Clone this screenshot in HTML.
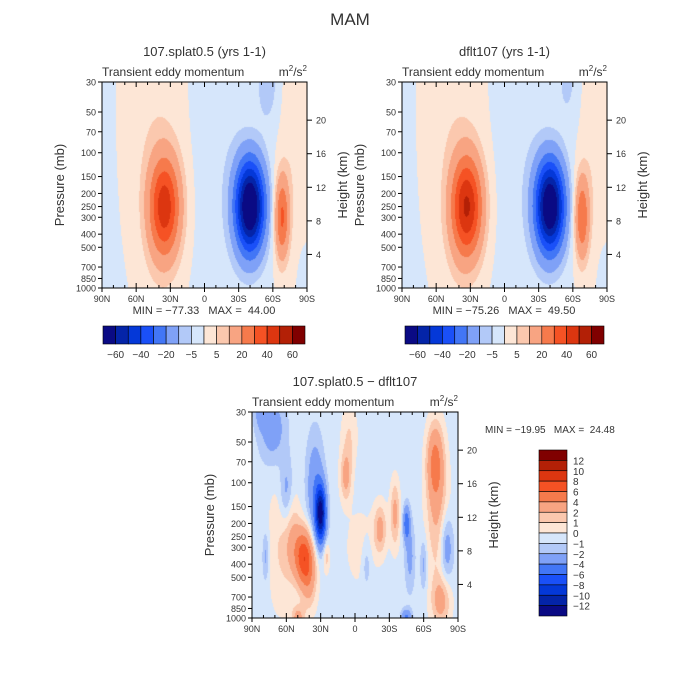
<!DOCTYPE html>
<html><head><meta charset="utf-8"><style>
body{margin:0;background:#fff;}
#root{position:relative;width:700px;height:700px;background:#fff;font-family:"Liberation Sans",sans-serif;color:#333;overflow:hidden;}
.t{position:absolute;white-space:nowrap;}
canvas{position:absolute;}
svg{position:absolute;left:0;top:0;}
svg text{white-space:pre;}
</style></head><body>
<div id="root">
<div class="t" style="left:0;width:700px;text-align:center;top:10px;font-size:17px;">MAM</div>
<canvas id="c1" width="205" height="206" style="left:102px;top:82px"></canvas>
<canvas id="c2" width="205" height="206" style="left:402px;top:82px"></canvas>
<canvas id="c3" width="206" height="206" style="left:252px;top:412px"></canvas>
<svg id="ov" width="700" height="700"></svg>
</div>
<script>
const palette=["#0a0a84","#0424a8","#0438d8","#1a50f8","#4276f6","#7fa1f7","#b2c9f8","#d6e6fb","#fde6d6","#fbc8ae","#f8a482","#f67a4c","#f55224","#dc3610","#b32006","#800000"];
const levelsTop=[-60,-50,-40,-30,-20,-10,-5,0,5,10,20,30,40,50,60];
const levelsDiff=[-12,-10,-8,-6,-4,-2,-1,0,1,2,4,6,8,10,12];
const labelsTop=["-60","-40","-20","-5","5","20","40","60"];
const labelsDiff=["12","10","8","6","4","2","1","0","-1","-2","-4","-6","-8","-10","-12"];
const latTicks=["90N","60N","30N","0","30S","60S","90S"];
const presTicks=[30,50,70,100,150,200,250,300,400,500,700,850,1000];
const kmTicks=[4,8,12,16,20];
// blobs: [lat(N+), pressure mb, amplitude, sigmaLat, sigmaLnP]
const blobs1=[[35,250,44,9.5,0.6],[-40,250,-77,9,0.55],[-68,300,32,4.5,0.5],[45,60,4,18,1.2],[40,500,3,14,0.9],[-15,100,-3,15,2],[-80,80,4.5,8,1.2],[-55,30,-9,6,0.45],[-88,900,-4,3,0.3],[88,300,-3,5,2]];
const blobs2=[[33,250,49,9.5,0.6],[-40,250,-75,9,0.55],[-68,300,30,4.5,0.5],[45,60,4,18,1.2],[40,500,3,14,0.9],[-15,100,-3,15,2],[-80,80,4.5,8,1.2],[-55,30,-6,6,0.45],[-88,900,-4,3,0.3],[88,300,-3,5,2]];
const blobsDiff=[[45,350,7,5.5,0.33],[40,500,3,5,0.4],[55,250,2,5,0.5],[30,170,-12,3.2,0.33],[35,110,-3,5,0.6],[60,120,-2.5,4,0.4],[72,40,-2.5,8,0.4],[82,30,-2,4,0.2],[65,300,1.5,8,0.8],[8,90,3,3.5,0.3],[5,45,1.5,5,0.4],[-70,70,4.5,5,0.45],[-72,170,2.5,7,0.8],[-22,220,3,4,0.3],[-35,170,3,3,0.4],[-45,200,-5,2,0.2],[-48,350,-2,3,0.4],[-80,300,-3,4,0.4],[-75,750,3,6,0.3],[-45,1000,-4,3,0.1],[25,350,2,2,0.2],[-5,300,1,10,0.5],[78,350,-2,2,0.3],[50,1000,3,4,0.15],[-10,400,-1.5,3,0.3],[-60,400,-2,2,0.3]];
const baseDiff=-0.5;

const L30=Math.log(30),L1000=Math.log(1000);
function xOf(lat,x0,w){return x0+(90-lat)/180*w;}
function yOf(p,y0,h){return y0+(Math.log(p)-L30)/(L1000-L30)*h;}
function cls(v,lev){let i=0;while(i<lev.length&&v>=lev[i])i++;return i;}
function hex(c){return [parseInt(c.slice(1,3),16),parseInt(c.slice(3,5),16),parseInt(c.slice(5,7),16)];}
const rgb=palette.map(hex);
function draw(id,blobs,base,lev){
  const c=document.getElementById(id),ctx=c.getContext('2d'),W=c.width,H=c.height;
  const img=ctx.createImageData(W,H);
  for(let j=0;j<H;j++){const lp=L30+(j+0.5)/H*(L1000-L30);
    for(let i=0;i<W;i++){const lat=90-(i+0.5)/W*180;let v=base;
      for(const b of blobs){const dx=(lat-b[0])/b[3],dy=(lp-Math.log(b[1]))/b[4];v+=b[2]*Math.exp(-0.5*(dx*dx+dy*dy));}
      const col=rgb[cls(v,lev)],k=(j*W+i)*4;img.data[k]=col[0];img.data[k+1]=col[1];img.data[k+2]=col[2];img.data[k+3]=255;}}
  ctx.putImageData(img,0,0);
}
draw('c1',blobs1,-0.5,levelsTop);draw('c2',blobs2,-0.5,levelsTop);draw('c3',blobsDiff,baseDiff,levelsDiff);

const NS='http://www.w3.org/2000/svg',ov=document.getElementById('ov');
function el(tag,a,txt){const e=document.createElementNS(NS,tag);for(const k in a)e.setAttribute(k,a[k]);if(txt!==undefined)e.textContent=txt;ov.appendChild(e);return e;}
function txt(x,y,s,size,anchor,name,rot){const e=el('text',{x:x,y:y,'font-size':size,'text-anchor':anchor||'middle',fill:'#333','font-family':'Liberation Sans, sans-serif'},s);
  if(rot)e.setAttribute('transform','rotate(-90 '+x+' '+y+')');
  
  return e;}
function panel(x0,y0,w,h,title,pfx){
  const r=el('rect',{x:x0,y:y0,width:w,height:h,fill:'none',stroke:'#000','stroke-width':1});
  
  
  txt(x0+w/2,y0-26,title,13,'middle',pfx+'-title');
  txt(x0,y0-6,'Transient eddy momentum',12,'start',pfx+'-subtitle');
  const u=txt(x0+w,y0-6,'',12,'end',pfx+'-units');
  u.innerHTML='m<tspan dy="-5" font-size="8">2</tspan><tspan dy="5">/s</tspan><tspan dy="-5" font-size="8">2</tspan>';
  for(let lat=90;lat>=-90;lat-=10){const x=xOf(lat,x0,w),len=(lat%30===0)?5:3;
    el('line',{x1:x,y1:y0+h,x2:x,y2:y0+h-len,stroke:'#000'});el('line',{x1:x,y1:y0,x2:x,y2:y0+len,stroke:'#000'});}
  latTicks.forEach((s,i)=>{const x=xOf(90-30*i,x0,w);el('line',{x1:x,y1:y0+h,x2:x,y2:y0+h+4,stroke:'#000'});
    txt(x,y0+h+14,s,9,'middle',pfx+'-x-tick-label');});
  presTicks.forEach(p=>{const y=yOf(p,y0,h);el('line',{x1:x0-4,y1:y,x2:x0,y2:y,stroke:'#000'});
    txt(x0-6,y+3.5,String(p),9,'end',pfx+'-y-tick-label');});
  kmTicks.forEach(z=>{const p=1000*Math.exp(-z/7),y=yOf(p,y0,h);el('line',{x1:x0+w,y1:y,x2:x0+w+5,y2:y,stroke:'#000'});
    txt(x0+w+9,y+3.5,String(z),9,'start',pfx+'-km-tick-label');});
  txt(x0-38,y0+h/2,'Pressure (mb)',13,'middle',pfx+'-y-axis-title',true);
  txt(x0+w+40,y0+h/2,'Height (km)',13,'middle',pfx+'-km-axis-title',true);
}
function hbar(x0,y0,w,h,pfx){const bw=w/palette.length;
  palette.forEach((c,i)=>{const r=el('rect',{x:x0+i*bw,y:y0,width:bw,height:h,fill:c,stroke:'#000','stroke-width':0.6});
    
    });
  labelsTop.forEach((s,k)=>{txt(x0+(2*k+1)*bw,y0+h+14,s.replace('-','\u2212'),10,'middle',pfx+'-colorbar-label');});}
panel(102,82,205,206,'107.splat0.5 (yrs 1-1)','left');
panel(402,82,205,206,'dflt107 (yrs 1-1)','right');
panel(252,412,206,206,'107.splat0.5 \u2212 dflt107','diff');
txt(204,314,'MIN = \u221277.33   MAX =  44.00',11,'middle','left-min-max');
txt(504,314,'MIN = \u221275.26   MAX =  49.50',11,'middle','right-min-max');
txt(485,433,'MIN = \u221219.95   MAX =  24.48',10,'start','diff-min-max');
hbar(103,326,202,18,'left');hbar(405,326,199,18,'right');
(function(){const x0=539,y0=450,w=28,h=166,bh=h/palette.length;
  palette.slice().reverse().forEach((c,i)=>{const r=el('rect',{x:x0,y:y0+i*bh,width:w,height:bh,fill:c,stroke:'#000','stroke-width':0.6});
    
    });
  labelsDiff.forEach((s,k)=>{txt(x0+w+6,y0+(k+1)*bh+4,s.replace('-','\u2212'),10,'start','diff-colorbar-label');});})();
</script>
</body></html>
